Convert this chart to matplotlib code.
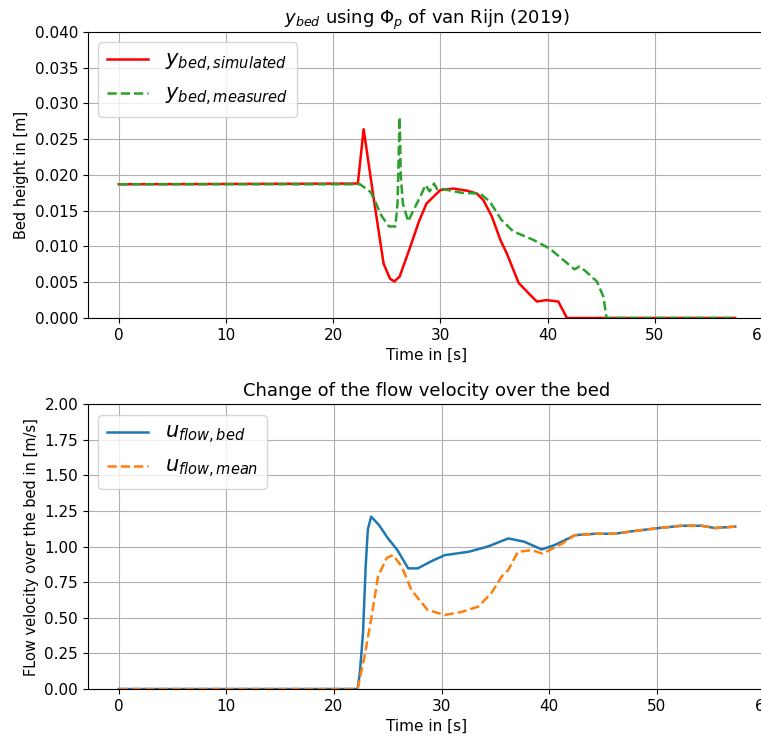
import numpy as np
import matplotlib
matplotlib.use("Agg")
import matplotlib.pyplot as plt

# Bed height
t_sim = [0, 22.3, 22.84, 23.8, 24.7, 25.3, 25.7, 26.2, 27.2, 28.0, 28.7, 30.0, 31.2, 32.5, 33.4,
         34.0, 34.8, 35.6, 36.2, 37.3, 38.2, 39.0, 39.9, 41.0, 41.8, 57.5]
y_sim = [0.0187, 0.0188, 0.0264, 0.0165, 0.0076, 0.0055, 0.0051, 0.0058, 0.0100, 0.0135, 0.0160, 0.0179,
         0.0181, 0.0178, 0.0174, 0.0165, 0.0142, 0.0109, 0.0090, 0.0049, 0.0035, 0.0023, 0.0025, 0.0023,
         0.0, 0.0]

t_meas = [0, 22.5, 23.5, 24.0, 24.5, 25.2, 25.8, 26.0, 26.2, 26.3, 26.5, 27.0, 27.4, 27.8, 28.2,
          28.6, 29.0, 29.4, 29.7, 30.0, 31.0, 32.0, 33.7, 34.6, 35.7, 36.8, 38.7, 40.2, 41.8,
          42.5, 43.0, 43.5, 44.6, 45.2, 45.5, 57.5]
y_meas = [0.0187, 0.0187, 0.0176, 0.0160, 0.0143, 0.0128, 0.0128, 0.0160, 0.0281, 0.0200, 0.0160,
          0.0135, 0.0148, 0.0160, 0.0172, 0.0186, 0.0177, 0.0188, 0.0180, 0.0181, 0.0178, 0.0175,
          0.0174, 0.0163, 0.0137, 0.0121, 0.0109, 0.0097, 0.0077, 0.0068, 0.0072, 0.0066, 0.0051,
          0.0030, 0.0, 0.0]

# Flow velocity
t_bed = [0, 22.2, 22.4, 22.7, 22.95, 23.15, 23.46, 24.2, 25.0, 25.9, 26.9, 27.8, 29.0, 30.3,
         32.5, 34.3, 36.2, 37.7, 39.3, 40.5, 41.8, 42.4, 44.3, 46.1, 48.0, 50.2, 52.3, 54.2,
         55.4, 57.3]
u_bed = [0.0, 0.0, 0.11, 0.39, 0.86, 1.12, 1.21, 1.15, 1.06, 0.975, 0.847, 0.847, 0.895, 0.94,
         0.963, 1.0, 1.057, 1.034, 0.98, 1.01, 1.057, 1.08, 1.09, 1.09, 1.11, 1.13, 1.146, 1.146,
         1.13, 1.14]

t_mean = [0, 22.2, 22.85, 23.5, 24.1, 24.9, 25.5, 26.3, 27.2, 28.7, 30.3, 31.8, 33.4, 34.6,
          35.6, 36.2, 37.1, 38.4, 39.4, 41.2, 42.4, 44.3, 46.1, 48.0, 50.2, 52.3, 54.2, 55.4, 57.3]
u_mean = [0.0, 0.0, 0.23, 0.51, 0.79, 0.92, 0.94, 0.86, 0.695, 0.555, 0.52, 0.54, 0.578, 0.67,
          0.79, 0.835, 0.963, 0.975, 0.95, 1.02, 1.08, 1.09, 1.09, 1.11, 1.13, 1.146, 1.146, 1.13,
          1.14]

fig = plt.figure(figsize=(7.61, 7.40), dpi=100)
# axes run a bit past the right edge, like the cropped original
ax1 = fig.add_axes([0.1156, 0.5703, 0.891, 0.3865])
ax2 = fig.add_axes([0.1156, 0.0689, 0.891, 0.385])

ax1.plot(t_sim, y_sim, "r-", lw=1.8, label="$y_{bed,simulated}$")
ax1.plot(t_meas, y_meas, "--", lw=1.8, color="tab:green", label="$y_{bed,measured}$")
ax1.set_ylim(0, 0.04)
ax1.set_yticks(np.arange(0, 0.0401, 0.005))
ax1.set_xlabel("Time in [s]", fontsize=11)
ax1.set_ylabel("Bed height in [m]", fontsize=10.5)
ax1.set_title(r"$y_{bed}$ using $\Phi_p$ of van Rijn (2019)", fontsize=13)
ax1.grid(True)
ax1.legend(loc="upper left", fontsize=15)

ax2.plot(t_bed, u_bed, "-", lw=1.8, color="tab:blue", label="$u_{flow,bed}$")
ax2.plot(t_mean, u_mean, "--", lw=1.8, color="tab:orange", label="$u_{flow,mean}$")
ax2.set_ylim(0, 2.0)
ax2.set_yticks(np.arange(0, 2.01, 0.25))
ax2.set_xlabel("Time in [s]", fontsize=11)
ax2.set_ylabel("FLow velocity over the bed in [m/s]", fontsize=10.5)
ax2.set_title("Change of the flow velocity over the bed", fontsize=13)
ax2.grid(True)
ax2.legend(loc="upper left", fontsize=15)

for ax in (ax1, ax2):
    ax.tick_params(labelsize=11)

fig.savefig("out.png", dpi=100)
